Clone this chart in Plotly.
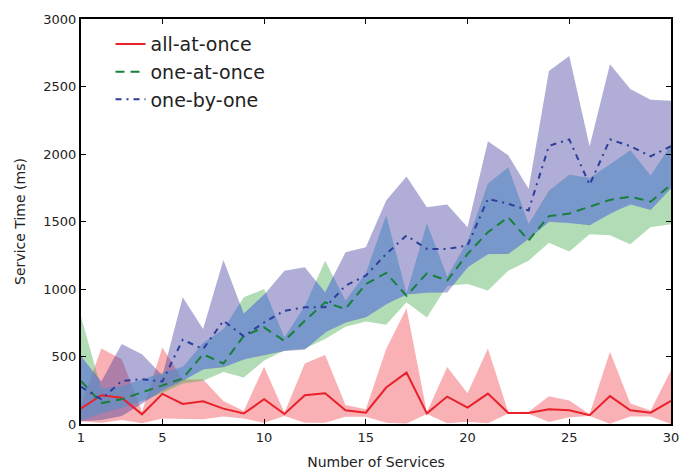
import numpy as np
import plotly.graph_objects as go

n_services = list(range(1, 31))

# all-at-once (red)
all_mean = [115, 213, 195, 72, 223, 148, 168, 114, 78, 183, 74, 213, 228, 102, 84,
            270, 381, 79, 203, 121, 225, 82, 82, 110, 102, 65, 207, 102, 84, 171]
all_upper = [140, 559, 480, 90, 567, 330, 330, 171, 97, 425, 84, 448, 512, 141, 109,
             555, 858, 85, 423, 228, 559, 88, 90, 205, 175, 72, 535, 152, 100, 398]
all_lower = [20, 10, 30, 5, 40, 35, 35, 55, 40, 10, 60, 10, 10, 54, 54,
             10, 3, 75, 5, 17, 5, 78, 76, 15, 50, 60, 1, 55, 56, 0]

# one-at-once (green)
at_mean = [319, 155, 183, 235, 290, 337, 517, 448, 653, 715, 616, 765, 901, 852, 1037,
           1119, 950, 1116, 1062, 1260, 1421, 1532, 1359, 1540, 1559, 1610, 1660, 1684, 1647, 1772]
at_upper = [797, 260, 280, 330, 380, 420, 600, 700, 938, 1000, 640, 870, 1210, 913, 1115,
            1545, 965, 1483, 1090, 1350, 1780, 1900, 1480, 1727, 1846, 1822, 1921, 2028, 1839, 2066]
at_lower = [30, 80, 120, 170, 230, 300, 320, 385, 344, 470, 545, 560, 630, 720, 760,
            735, 901, 789, 1025, 1037, 988, 1136, 1210, 1342, 1278, 1405, 1398, 1331, 1460, 1480]

# one-by-one (blue)
by_mean = [275, 183, 319, 332, 315, 624, 555, 765, 650, 752, 839, 864, 864, 1025, 1099,
           1260, 1396, 1297, 1297, 1322, 1668, 1631, 1582, 2060, 2108, 1772, 2108, 2058, 1983, 2058]
by_upper = [500, 315, 592, 517, 360, 938, 703, 1215, 817, 958, 1136, 1161, 975, 1272, 1309,
            1656, 1834, 1606, 1626, 1458, 2094, 1990, 1743, 2614, 2726, 2058, 2664, 2482, 2402, 2395]
by_lower = [20, 30, 60, 150, 250, 320, 406, 420, 480, 510, 540, 550, 680, 752, 790,
            889, 960, 975, 975, 1161, 1260, 1260, 1371, 1498, 1490, 1473, 1559, 1627, 1585, 1747]

x_ticks = [1, 5, 10, 15, 20, 25, 30]
y_ticks = [0, 500, 1000, 1500, 2000, 2500, 3000]

FONT = "DejaVu Sans"
fig = go.Figure()


def band(x, lower, upper, color):
    fig.add_trace(go.Scatter(x=x, y=lower, mode="lines", line=dict(width=0),
                             showlegend=False, hoverinfo="skip"))
    fig.add_trace(go.Scatter(x=x, y=upper, mode="lines", line=dict(width=0),
                             fill="tonexty", fillcolor=color, showlegend=False, hoverinfo="skip"))


band(n_services, all_lower, all_upper, "rgba(240,60,70,0.4)")
band(n_services, at_lower, at_upper, "rgba(62,167,70,0.4)")
band(n_services, by_lower, by_upper, "rgba(57,52,152,0.4)")

# tint where the green and blue bands overlap (derived from the band arrays)
xf = np.linspace(1, 30, 2901)
ov_lo = np.maximum(np.interp(xf, n_services, at_lower), np.interp(xf, n_services, by_lower))
ov_hi = np.minimum(np.interp(xf, n_services, at_upper), np.interp(xf, n_services, by_upper))
ov_hi = np.maximum(ov_hi, ov_lo)
band(xf, ov_lo, ov_hi, "rgba(110,150,235,0.5)")

fig.add_trace(go.Scatter(x=n_services, y=all_mean, mode="lines", name="all-at-once",
                         line=dict(color="#e8212b", width=2)))
fig.add_trace(go.Scatter(x=n_services, y=at_mean, mode="lines", name="one-at-once",
                         line=dict(color="#17803a", width=2, dash="9px,6px")))
fig.add_trace(go.Scatter(x=n_services, y=by_mean, mode="lines", name="one-by-one",
                         line=dict(color="#2c3d9c", width=2, dash="6px,5px,2px,5px")))

axis_common = dict(showline=True, linecolor="black", linewidth=2, mirror="allticks",
                   ticks="inside", ticklen=5, tickwidth=1, tickcolor="black",
                   showgrid=False, zeroline=False, automargin=False,
                   tickfont=dict(family=FONT, size=13, color="#222"))

fig.update_layout(
    width=681, height=470,
    margin=dict(l=81, r=10, t=19, b=46),
    paper_bgcolor="white", plot_bgcolor="white",
    font=dict(family=FONT, size=13, color="#222"),
    xaxis=dict(range=[1, 30], tickvals=x_ticks,
               title=dict(text="Number of Services", font=dict(family=FONT, size=14), standoff=14),
               **axis_common),
    yaxis=dict(range=[0, 3000], tickvals=y_ticks,
               title=dict(text="Service Time (ms)", font=dict(family=FONT, size=14), standoff=14),
               **axis_common),
    legend=dict(x=0.05, y=0.985, xanchor="left", yanchor="top", bgcolor="rgba(0,0,0,0)",
                font=dict(family=FONT, size=19, color="#222"), tracegroupgap=0,
                traceorder="normal", itemwidth=30),
    showlegend=True,
)

fig.write_html("out.html")
